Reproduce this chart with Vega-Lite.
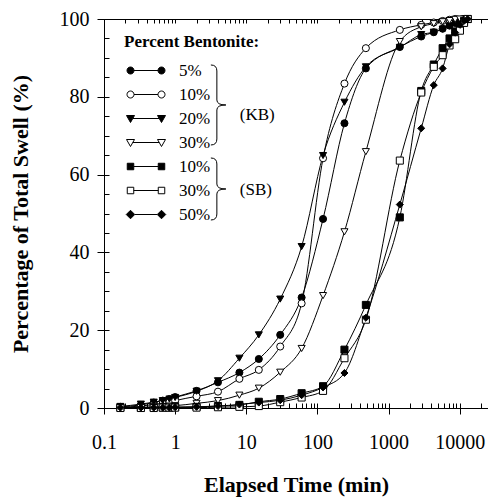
{
  "$schema": "https://vega.github.io/schema/vega-lite/v6.json",
  "width": 384,
  "height": 389,
  "autosize": {"type": "none"},
  "padding": {"left": 104, "top": 19, "right": 0, "bottom": 91},
  "config": {
    "font": "Liberation Serif",
    "view": {"stroke": null},
    "axis": {"domainColor": "black", "tickColor": "black", "labelColor": "black", "titleColor": "black", "grid": false, "labelFont": "Liberation Serif", "titleFont": "Liberation Serif", "domainWidth": 1, "tickWidth": 1}
  },
  "datasets": {
    "curves": [
      {"s":"KB 5%","t":0.17,"v":0.3},{"s":"KB 5%","t":0.33,"v":0.8},{"s":"KB 5%","t":0.5,"v":1.4},{"s":"KB 5%","t":0.67,"v":1.9},{"s":"KB 5%","t":0.83,"v":2.3},{"s":"KB 5%","t":1,"v":2.8},{"s":"KB 5%","t":2,"v":4.4},{"s":"KB 5%","t":4,"v":6.6},{"s":"KB 5%","t":8,"v":9.1},{"s":"KB 5%","t":15,"v":12.6},{"s":"KB 5%","t":30,"v":18.8},{"s":"KB 5%","t":60,"v":28.4},{"s":"KB 5%","t":120,"v":48.6},{"s":"KB 5%","t":240,"v":73.2},{"s":"KB 5%","t":480,"v":87.3},{"s":"KB 5%","t":1440,"v":92.8},{"s":"KB 5%","t":2880,"v":95.5},{"s":"KB 5%","t":4320,"v":96.6},{"s":"KB 5%","t":5760,"v":97.5},{"s":"KB 5%","t":7200,"v":98.3},{"s":"KB 5%","t":8640,"v":99.0},{"s":"KB 5%","t":10080,"v":99.6},{"s":"KB 5%","t":11520,"v":100},
      {"s":"KB 10%","t":0.17,"v":0.2},{"s":"KB 10%","t":0.33,"v":0.5},{"s":"KB 10%","t":0.5,"v":0.9},{"s":"KB 10%","t":0.67,"v":1.2},{"s":"KB 10%","t":0.83,"v":1.5},{"s":"KB 10%","t":1,"v":1.9},{"s":"KB 10%","t":2,"v":3.0},{"s":"KB 10%","t":4,"v":4.2},{"s":"KB 10%","t":8,"v":7.5},{"s":"KB 10%","t":15,"v":9.8},{"s":"KB 10%","t":30,"v":15.8},{"s":"KB 10%","t":60,"v":26.9},{"s":"KB 10%","t":120,"v":64.2},{"s":"KB 10%","t":240,"v":83.4},{"s":"KB 10%","t":480,"v":92.5},{"s":"KB 10%","t":1440,"v":97.2},{"s":"KB 10%","t":2880,"v":98.5},{"s":"KB 10%","t":4320,"v":99.1},{"s":"KB 10%","t":5760,"v":99.5},{"s":"KB 10%","t":7200,"v":99.8},{"s":"KB 10%","t":8640,"v":100},
      {"s":"KB 20%","t":0.17,"v":0.4},{"s":"KB 20%","t":0.33,"v":1.0},{"s":"KB 20%","t":0.5,"v":1.5},{"s":"KB 20%","t":0.67,"v":1.9},{"s":"KB 20%","t":0.83,"v":2.3},{"s":"KB 20%","t":1,"v":2.7},{"s":"KB 20%","t":2,"v":4.3},{"s":"KB 20%","t":4,"v":7.0},{"s":"KB 20%","t":8,"v":12.8},{"s":"KB 20%","t":15,"v":18.8},{"s":"KB 20%","t":30,"v":28.0},{"s":"KB 20%","t":60,"v":41.5},{"s":"KB 20%","t":120,"v":64.9},{"s":"KB 20%","t":240,"v":78.6},{"s":"KB 20%","t":480,"v":87.7},{"s":"KB 20%","t":1440,"v":92.7},{"s":"KB 20%","t":2880,"v":96.0},{"s":"KB 20%","t":4320,"v":96.6},{"s":"KB 20%","t":5760,"v":97.4},{"s":"KB 20%","t":7200,"v":98.2},{"s":"KB 20%","t":8640,"v":98.9},{"s":"KB 20%","t":10080,"v":99.5},{"s":"KB 20%","t":11520,"v":100},
      {"s":"KB 30%","t":0.17,"v":0.1},{"s":"KB 30%","t":0.33,"v":0.2},{"s":"KB 30%","t":0.5,"v":0.3},{"s":"KB 30%","t":0.67,"v":0.4},{"s":"KB 30%","t":0.83,"v":0.5},{"s":"KB 30%","t":1,"v":0.6},{"s":"KB 30%","t":2,"v":1.2},{"s":"KB 30%","t":4,"v":1.9},{"s":"KB 30%","t":8,"v":3.3},{"s":"KB 30%","t":15,"v":5.1},{"s":"KB 30%","t":30,"v":9.2},{"s":"KB 30%","t":60,"v":15.3},{"s":"KB 30%","t":120,"v":28.9},{"s":"KB 30%","t":240,"v":45.3},{"s":"KB 30%","t":480,"v":65.9},{"s":"KB 30%","t":1440,"v":94.2},{"s":"KB 30%","t":2880,"v":98.0},{"s":"KB 30%","t":4320,"v":98.8},{"s":"KB 30%","t":5760,"v":99.3},{"s":"KB 30%","t":7200,"v":99.6},{"s":"KB 30%","t":8640,"v":99.9},{"s":"KB 30%","t":10080,"v":100},
      {"s":"SB 10%","t":0.17,"v":0.1},{"s":"SB 10%","t":0.33,"v":0.1},{"s":"SB 10%","t":0.5,"v":0.1},{"s":"SB 10%","t":0.67,"v":0.1},{"s":"SB 10%","t":0.83,"v":0.1},{"s":"SB 10%","t":1,"v":0.2},{"s":"SB 10%","t":2,"v":0.3},{"s":"SB 10%","t":4,"v":0.5},{"s":"SB 10%","t":8,"v":0.8},{"s":"SB 10%","t":15,"v":1.6},{"s":"SB 10%","t":30,"v":2.3},{"s":"SB 10%","t":60,"v":3.8},{"s":"SB 10%","t":120,"v":5.6},{"s":"SB 10%","t":240,"v":15.0},{"s":"SB 10%","t":480,"v":26.5},{"s":"SB 10%","t":1440,"v":49.0},{"s":"SB 10%","t":2880,"v":81.5},{"s":"SB 10%","t":4320,"v":88.3},{"s":"SB 10%","t":5760,"v":92.5},{"s":"SB 10%","t":7200,"v":95.0},{"s":"SB 10%","t":8640,"v":96.8},{"s":"SB 10%","t":10080,"v":98.5},{"s":"SB 10%","t":11520,"v":99.5},{"s":"SB 10%","t":12960,"v":100},
      {"s":"SB 30%","t":0.17,"v":0.0},{"s":"SB 30%","t":0.33,"v":0.0},{"s":"SB 30%","t":0.5,"v":0.0},{"s":"SB 30%","t":0.67,"v":0.1},{"s":"SB 30%","t":0.83,"v":0.1},{"s":"SB 30%","t":1,"v":0.1},{"s":"SB 30%","t":2,"v":0.1},{"s":"SB 30%","t":4,"v":0.2},{"s":"SB 30%","t":8,"v":0.3},{"s":"SB 30%","t":15,"v":0.5},{"s":"SB 30%","t":30,"v":1.5},{"s":"SB 30%","t":60,"v":2.7},{"s":"SB 30%","t":120,"v":4.4},{"s":"SB 30%","t":240,"v":12.8},{"s":"SB 30%","t":480,"v":22.7},{"s":"SB 30%","t":1440,"v":63.6},{"s":"SB 30%","t":2880,"v":81.1},{"s":"SB 30%","t":4320,"v":87.7},{"s":"SB 30%","t":5760,"v":90.7},{"s":"SB 30%","t":7200,"v":93.2},{"s":"SB 30%","t":8640,"v":94.8},{"s":"SB 30%","t":10080,"v":97.0},{"s":"SB 30%","t":11520,"v":99.0},{"s":"SB 30%","t":12960,"v":100},
      {"s":"SB 50%","t":0.17,"v":0.1},{"s":"SB 50%","t":0.33,"v":0.1},{"s":"SB 50%","t":0.5,"v":0.1},{"s":"SB 50%","t":0.67,"v":0.1},{"s":"SB 50%","t":0.83,"v":0.1},{"s":"SB 50%","t":1,"v":0.2},{"s":"SB 50%","t":2,"v":0.3},{"s":"SB 50%","t":4,"v":0.5},{"s":"SB 50%","t":8,"v":0.9},{"s":"SB 50%","t":15,"v":1.4},{"s":"SB 50%","t":30,"v":2.0},{"s":"SB 50%","t":60,"v":3.3},{"s":"SB 50%","t":120,"v":5.3},{"s":"SB 50%","t":240,"v":9.0},{"s":"SB 50%","t":480,"v":23.2},{"s":"SB 50%","t":1440,"v":52.3},{"s":"SB 50%","t":2880,"v":71.9},{"s":"SB 50%","t":4320,"v":83.0},{"s":"SB 50%","t":5760,"v":87.3},{"s":"SB 50%","t":7200,"v":93.5},{"s":"SB 50%","t":8640,"v":96.5},{"s":"SB 50%","t":10080,"v":98.5},{"s":"SB 50%","t":11520,"v":99.5},{"s":"SB 50%","t":12960,"v":100}
    ],
    "groups": [
      {"g": "KB", "label": "(KB)", "bt": 3.86, "bv": 77.9, "lt": 8.1, "lv": 75.3},
      {"g": "SB", "label": "(SB)", "bt": 3.86, "bv": 56.3, "lt": 8.1, "lv": 56.1}
    ]
  },
  "resolve": {"axis": {"x": "independent", "y": "independent"}, "scale": {"shape": "independent", "fill": "independent", "stroke": "independent"}, "legend": {"shape": "independent", "fill": "independent", "stroke": "independent"}},
  "layer": [
    {
      "data": {"name": "curves"},
      "mark": {"type": "line", "color": "black", "strokeWidth": 1, "interpolate": "monotone"},
      "encoding": {
        "x": {"field": "t", "type": "quantitative",
          "scale": {"type": "log", "domain": [0.1, 25000], "nice": false},
          "axis": {"orient": "bottom", "values": [0.1, 1, 10, 100, 1000, 10000], "format": "~g", "tickSize": 6, "labelPadding": 18, "labelFontSize": 20, "labelFlush": false, "labelOverlap": false, "title": "Elapsed Time (min)", "titleFontSize": 22, "titleFontWeight": "bold", "titlePadding": 22}},
        "y": {"field": "v", "type": "quantitative",
          "scale": {"domain": [0, 100], "nice": false},
          "axis": {"orient": "left", "values": [0, 20, 40, 60, 80, 100], "tickSize": 7, "labelPadding": 8, "labelFontSize": 20, "labelFlush": false, "title": "Percentage of Total Swell (%)", "titleFontSize": 22, "titleFontWeight": "bold", "titlePadding": 27}},
        "detail": {"field": "s"}
      }
    },
    {
      "data": {"name": "curves"},
      "mark": {"type": "point", "filled": true, "size": 50, "stroke": "black", "strokeWidth": 1, "opacity": 1},
      "encoding": {
        "x": {"field": "t", "type": "quantitative",
          "axis": {"orient": "bottom", "values": [0.1,0.2,0.3,0.4,0.5,0.6,0.7,0.8,0.9,1,2,3,4,5,6,7,8,9,10,20,30,40,50,60,70,80,90,100,200,300,400,500,600,700,800,900,1000,2000,3000,4000,5000,6000,7000,8000,9000,10000,20000], "tickSize": -5, "labels": false, "title": null}},
        "y": {"field": "v", "type": "quantitative",
          "axis": {"orient": "left", "values": [0,5,10,15,20,25,30,35,40,45,50,55,60,65,70,75,80,85,90,95,100], "tickSize": -5, "labels": false, "title": null}},
        "shape": {"field": "s", "type": "nominal", "legend": null,
          "scale": {"domain": ["KB 5%","KB 10%","KB 20%","KB 30%","SB 10%","SB 30%","SB 50%"], "range": ["circle","circle","triangle-down","triangle-down","square","square","diamond"]}},
        "fill": {"field": "s", "type": "nominal", "legend": null,
          "scale": {"domain": ["KB 5%","KB 10%","KB 20%","KB 30%","SB 10%","SB 30%","SB 50%"], "range": ["black","white","black","white","black","white","black"]}}
      }
    },
    {
      "data": {"name": "curves"},
      "mark": {"type": "point", "filled": true, "size": 50, "strokeWidth": 1, "opacity": 0},
      "encoding": {
        "x": {"field": "t", "type": "quantitative", "axis": null},
        "y": {"field": "v", "type": "quantitative", "axis": null},
        "shape": {"field": "s", "type": "nominal",
          "scale": {"domain": ["KB 5%","KB 10%","KB 20%","KB 30%","SB 10%","SB 30%","SB 50%"], "range": [
            "M-3.8,0A0.7,0.7,0,1,0,-2.4,0A0.7,0.7,0,1,0,-3.8,0ZM-2.4,0L2.4,0M2.4,0A0.7,0.7,0,1,0,3.8,0A0.7,0.7,0,1,0,2.4,0Z",
            "M-3.8,0A0.7,0.7,0,1,0,-2.4,0A0.7,0.7,0,1,0,-3.8,0ZM-2.4,0L2.4,0M2.4,0A0.7,0.7,0,1,0,3.8,0A0.7,0.7,0,1,0,2.4,0Z",
            "M-3.9,-0.6L-2.3,-0.6L-3.1,0.8ZM-2.64,0L2.64,0M2.3,-0.6L3.9,-0.6L3.1,0.8Z",
            "M-3.9,-0.6L-2.3,-0.6L-3.1,0.8ZM-2.64,0L2.64,0M2.3,-0.6L3.9,-0.6L3.1,0.8Z",
            "M-3.75,-0.65L-2.45,-0.65L-2.45,0.65L-3.75,0.65ZM-2.45,0L2.45,0M2.45,-0.65L3.75,-0.65L3.75,0.65L2.45,0.65Z",
            "M-3.75,-0.65L-2.45,-0.65L-2.45,0.65L-3.75,0.65ZM-2.45,0L2.45,0M2.45,-0.65L3.75,-0.65L3.75,0.65L2.45,0.65Z",
            "M-3.1,-0.85L-2.25,0L-3.1,0.85L-3.95,0ZM-2.25,0L2.25,0M3.1,-0.85L3.95,0L3.1,0.85L2.25,0Z"]},
          "legend": {"title": "Percent Bentonite:", "orient": "none", "legendX": 20, "legendY": 15, "padding": 0, "titleFont": "Liberation Serif", "titleFontSize": 17, "titleFontWeight": "bold", "titleColor": "black", "titlePadding": 11, "labelFont": "Liberation Serif", "labelFontSize": 17, "labelColor": "black", "labelExpr": "slice(datum.label, 3)", "symbolSize": 100, "symbolOffset": 13.5, "labelOffset": 24.5, "rowPadding": 6, "symbolStrokeWidth": 1, "symbolOpacity": 1}},
        "fill": {"field": "s", "type": "nominal",
          "scale": {"domain": ["KB 5%","KB 10%","KB 20%","KB 30%","SB 10%","SB 30%","SB 50%"], "range": ["black","white","black","white","black","white","black"]},
          "legend": {"title": "Percent Bentonite:", "orient": "none", "legendX": 20, "legendY": 15, "padding": 0, "titleFont": "Liberation Serif", "titleFontSize": 17, "titleFontWeight": "bold", "titleColor": "black", "titlePadding": 11, "labelFont": "Liberation Serif", "labelFontSize": 17, "labelColor": "black", "labelExpr": "slice(datum.label, 3)", "symbolSize": 100, "symbolOffset": 13.5, "labelOffset": 24.5, "rowPadding": 6, "symbolStrokeWidth": 1, "symbolOpacity": 1}},
        "stroke": {"field": "s", "type": "nominal",
          "scale": {"domain": ["KB 5%","KB 10%","KB 20%","KB 30%","SB 10%","SB 30%","SB 50%"], "range": ["black","black","black","black","black","black","black"]},
          "legend": {"title": "Percent Bentonite:", "orient": "none", "legendX": 20, "legendY": 15, "padding": 0, "titleFont": "Liberation Serif", "titleFontSize": 17, "titleFontWeight": "bold", "titleColor": "black", "titlePadding": 11, "labelFont": "Liberation Serif", "labelFontSize": 17, "labelColor": "black", "labelExpr": "slice(datum.label, 3)", "symbolSize": 100, "symbolOffset": 13.5, "labelOffset": 24.5, "rowPadding": 6, "symbolStrokeWidth": 1, "symbolOpacity": 1}}
      }
    },
    {
      "data": {"name": "groups"},
      "mark": {"type": "point", "filled": false, "size": 400, "stroke": "black", "strokeWidth": 1, "opacity": 1},
      "encoding": {
        "x": {"field": "bt", "type": "quantitative",
          "axis": {"orient": "top", "values": [0.1,0.2,0.3,0.4,0.5,0.6,0.7,0.8,0.9,1,2,3,4,5,6,7,8,9,10,20,30,40,50,60,70,80,90,100,200,300,400,500,600,700,800,900,1000,2000,3000,4000,5000,6000,7000,8000,9000,10000,20000], "tickSize": -4, "labels": false, "title": null}},
        "y": {"field": "bv", "type": "quantitative", "axis": null},
        "shape": {"field": "g", "type": "nominal", "legend": null,
          "scale": {"domain": ["KB", "SB"], "range": ["M-0.6,-4Q0,-4,0,-3.4L0,-0.5Q0,0,0.9,0Q0,0,0,0.5L0,3.4Q0,4,-0.6,4", "M-0.6,-3.1Q0,-3.1,0,-2.5L0,-0.5Q0,0,0.9,0Q0,0,0,0.5L0,2.5Q0,3.1,-0.6,3.1"]}}
      }
    },
    {
      "data": {"name": "groups"},
      "mark": {"type": "text", "align": "left", "baseline": "middle", "font": "Liberation Serif", "fontSize": 17, "color": "black"},
      "encoding": {
        "x": {"field": "lt", "type": "quantitative", "axis": null},
        "y": {"field": "lv", "type": "quantitative", "axis": null},
        "text": {"field": "label"}
      }
    }
  ]
}
